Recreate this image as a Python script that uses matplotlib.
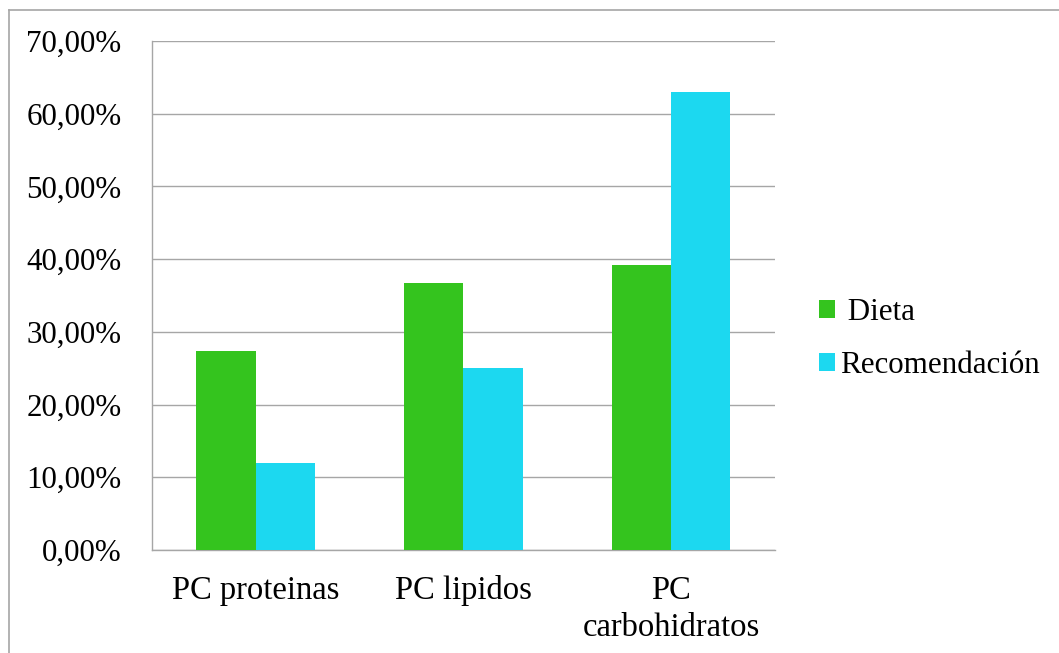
import numpy as np
import matplotlib
matplotlib.use("Agg")
import matplotlib.pyplot as plt
from matplotlib.lines import Line2D
from matplotlib.patches import Patch

plt.rcParams['font.family'] = ['Liberation Serif', 'DejaVu Serif']

categories = ["PC proteinas", "PC lipidos", "PC\ncarbohidratos"]
dieta = [27.4, 36.7, 39.2]
recomendacion = [12.0, 25.0, 63.0]
series_names = [" Dieta", "Recomendación"]
yticks = [0, 10, 20, 30, 40, 50, 60, 70]

green = "#34C41E"
cyan = "#1CD8F0"
gray = "#a6a6a6"

fig = plt.figure(figsize=(10.59, 6.53), dpi=100)
ax = fig.add_axes([0.1435, 0.1577, 0.7318 - 0.1435, 0.9372 - 0.1577])

x = np.arange(len(categories))
w = 1 / 3.5
ax.bar(x - w / 2, dieta, width=w, color=green, zorder=3)
ax.bar(x + w / 2, recomendacion, width=w, color=cyan, zorder=3)

ax.set_xlim(-0.5, len(categories) - 0.5)
ax.set_ylim(0, 70)
ax.set_yticks(yticks)
ax.set_yticklabels([f"{v:.2f}%".replace(".", ",") for v in yticks])
ax.set_xticks(x)
ax.set_xticklabels(categories, linespacing=1.3)
ax.tick_params(axis='y', length=0, pad=22, labelsize=22.3)
ax.tick_params(axis='x', length=0, pad=18, labelsize=23.5)
ax.yaxis.grid(True, color=gray, linewidth=1.0, zorder=0)
ax.set_axisbelow(True)
for s in ["top", "right"]:
    ax.spines[s].set_visible(False)
for s in ["left", "bottom"]:
    ax.spines[s].set_color(gray)
    ax.spines[s].set_linewidth(1.0)

handles = [Patch(facecolor=green), Patch(facecolor=cyan)]
fig.legend(handles, series_names, loc="center left",
           bbox_to_anchor=(0.7735, 0.481), frameon=False, fontsize=22.3,
           handlelength=0.52, handleheight=0.52, handletextpad=0.15,
           labelspacing=0.78, borderaxespad=0, borderpad=0)

# chart-area border (top and left edges visible)
fig.add_artist(Line2D([9 / 1059, 1], [1 - 10 / 653, 1 - 10 / 653],
                      transform=fig.transFigure, color=gray, linewidth=1.2))
fig.add_artist(Line2D([9 / 1059, 9 / 1059], [0, 1 - 10 / 653],
                      transform=fig.transFigure, color=gray, linewidth=1.2))

fig.savefig("out.png", dpi=100)
